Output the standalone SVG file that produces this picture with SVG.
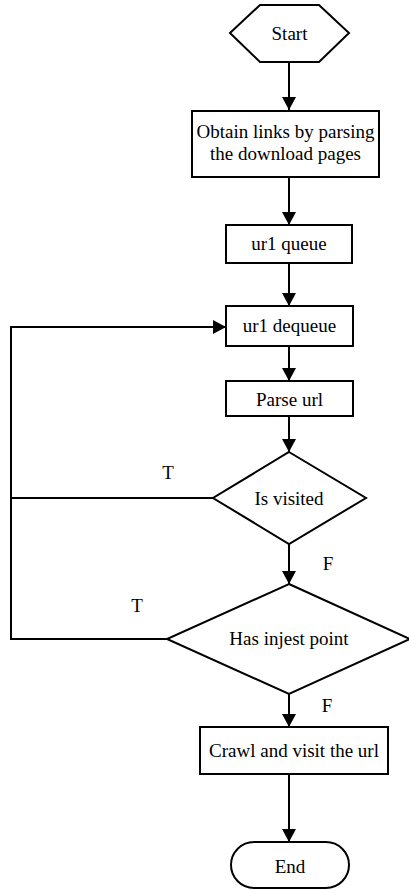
<svg xmlns="http://www.w3.org/2000/svg" width="409" height="890" viewBox="0 0 409 890">
<style>
.s{fill:#fff;stroke:#000;stroke-width:2}
.t{font-family:'Liberation Serif','Times New Roman',Times,'DejaVu Serif','Noto Serif',serif;font-size:19px;fill:#000;text-anchor:middle}
.c{fill:none;stroke:#000;stroke-width:2}
</style>
<defs>
<marker id="a" markerUnits="userSpaceOnUse" markerWidth="14" markerHeight="14" refX="13" refY="7" orient="auto">
<path d="M0,0 L13,7 L0,14 z" fill="#000"/>
</marker>
</defs>
<rect width="409" height="890" fill="#fff"/>
<g id="connectors">
<line class="c" x1="289" y1="62" x2="289" y2="110" marker-end="url(#a)"/>
<line class="c" x1="289" y1="177" x2="289" y2="225" marker-end="url(#a)"/>
<line class="c" x1="289" y1="263" x2="289" y2="306" marker-end="url(#a)"/>
<line class="c" x1="289" y1="346" x2="289" y2="381" marker-end="url(#a)"/>
<line class="c" x1="289" y1="416" x2="289" y2="452" marker-end="url(#a)"/>
<line class="c" x1="289" y1="544" x2="289" y2="584" marker-end="url(#a)"/>
<line class="c" x1="289" y1="694" x2="289" y2="727" marker-end="url(#a)"/>
<line class="c" x1="289" y1="774" x2="289" y2="842" marker-end="url(#a)"/>
<polyline class="c" points="213,498 11,498"/>
<polyline class="c" points="167,639 11,639 11,327 226,327" marker-end="url(#a)"/>
<text class="t" x="168" y="479" font-family="Liberation Serif, serif">T</text>
<text class="t" x="137" y="612" font-family="Liberation Serif, serif">T</text>
<text class="t" x="328" y="570" font-family="Liberation Serif, serif">F</text>
<text class="t" x="327" y="712" font-family="Liberation Serif, serif">F</text>
</g>
<g id="start">
<polygon class="s" points="230,33 260,5 319,5 349,33 319,62 260,62"/>
<text class="t" x="289.5" y="40">Start</text>
</g>
<g id="obtain">
<rect class="s" x="192" y="111" width="187" height="66"/>
<text class="t" x="285.5" y="138">Obtain links by parsing</text>
<text class="t" x="285.5" y="160">the download pages</text>
</g>
<g id="queue">
<rect class="s" x="226" y="225" width="126" height="38"/>
<text class="t" x="289" y="250">ur1 queue</text>
</g>
<g id="dequeue">
<rect class="s" x="226" y="306" width="127" height="40"/>
<text class="t" x="289.5" y="332">ur1 dequeue</text>
</g>
<g id="parse">
<rect class="s" x="226" y="381" width="127" height="35"/>
<text class="t" x="289.5" y="406">Parse url</text>
</g>
<g id="visited">
<polygon class="s" points="289,452 366,498 289,544 213,498"/>
<text class="t" x="289" y="505">Is visited</text>
</g>
<g id="injest">
<polygon class="s" points="289,584 410,639 289,694 167,639"/>
<text class="t" x="289" y="645">Has injest point</text>
</g>
<g id="crawl">
<rect class="s" x="200" y="727" width="188" height="47"/>
<text class="t" x="294" y="757">Crawl and visit the url</text>
</g>
<g id="end">
<rect class="s" x="231" y="842" width="118" height="46" rx="23" ry="23"/>
<text class="t" x="290" y="873">End</text>
</g>
</svg>
